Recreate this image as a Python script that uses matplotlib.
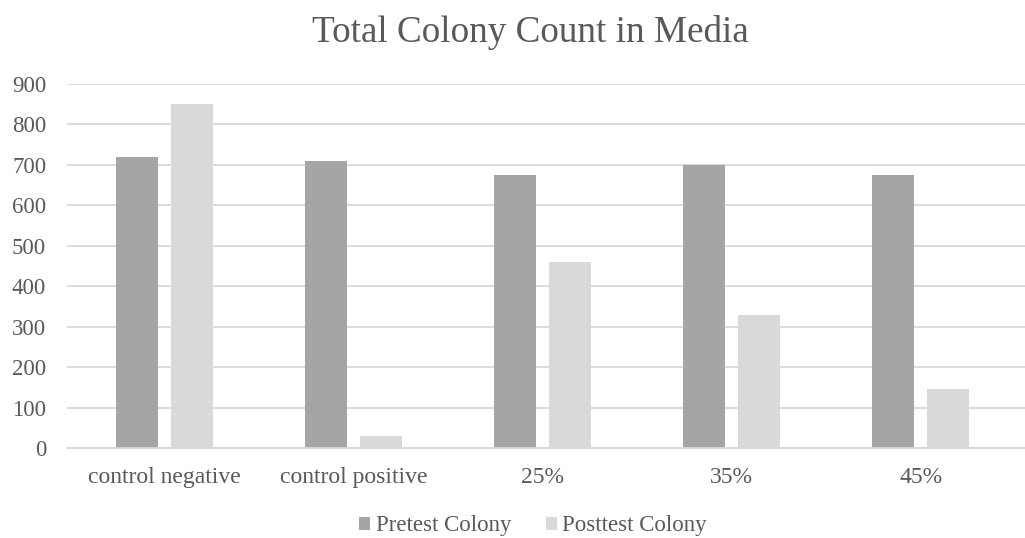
import matplotlib
matplotlib.use("Agg")
import matplotlib.pyplot as plt
import numpy as np
from matplotlib.patches import Patch

categories = ["control negative", "control positive", "25%", "35%", "45%"]
pretest = [720, 710, 675, 700, 674]
posttest = [850, 30, 460, 328, 145]
yticks = [0, 100, 200, 300, 400, 500, 600, 700, 800, 900]

plt.rcParams['font.family'] = ['Liberation Serif', 'DejaVu Serif']
text_color = "#595959"
c_pre = "#A5A5A5"
c_post = "#D9D9D9"
grid_c = "#D9D9D9"

W, H = 1025, 538
fig = plt.figure(figsize=(W / 100, H / 100), dpi=100)
ax = fig.add_axes([67 / W, (H - 448) / H, (1025 - 67) / W, (448 - 84) / H])

x = np.arange(len(categories))
bw = 0.222
off = 0.145
ax.bar(x - off, pretest, width=bw, color=c_pre, zorder=3)
ax.bar(x + off, posttest, width=bw, color=c_post, zorder=3)

ax.set_xlim(-0.513, 4.55)
ax.set_ylim(0, 900)
ax.set_yticks(yticks)
ax.set_yticklabels([str(v) for v in yticks])
ax.set_xticks(x)
ax.set_xticklabels(categories)
ax.yaxis.grid(True, color=grid_c, linewidth=1.3, zorder=0)
ax.set_axisbelow(True)
for s in ["top", "right", "left"]:
    ax.spines[s].set_visible(False)
ax.spines["bottom"].set_color(grid_c)
ax.spines["bottom"].set_linewidth(1.3)
ax.spines["bottom"].set_zorder(4)
ax.tick_params(axis="both", length=0, colors=text_color)
ax.tick_params(axis="y", pad=15, labelsize=16.5)
ax.tick_params(axis="x", pad=14, labelsize=17)

fig.text(530 / W, 1 - 33 / H, "Total Colony Count in Media", ha="center", va="center",
         fontsize=26.7, color=text_color)

handles = [Patch(facecolor=c_pre, edgecolor="none", label="Pretest Colony"),
           Patch(facecolor=c_post, edgecolor="none", label="Posttest Colony")]
fig.legend(handles=handles, loc="center", bbox_to_anchor=(533 / W, 1 - 526 / H), ncol=2,
           frameon=False, fontsize=16.5, labelcolor=text_color, handlelength=0.48,
           handleheight=0.48, handletextpad=0.25, columnspacing=1.5)

fig.savefig("out.png", dpi=100)
